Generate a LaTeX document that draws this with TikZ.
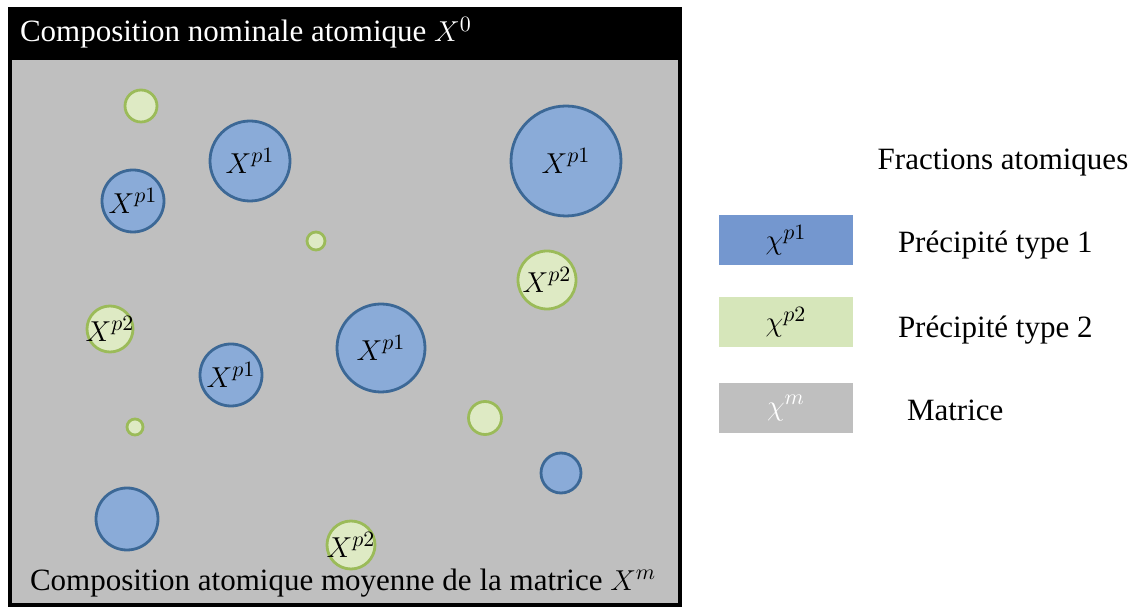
\documentclass[tikz,border=0pt]{standalone}
\usepackage{fontspec}
\setmainfont{Liberation Serif}

\definecolor{cbfbfbf}{RGB}{191,191,191}
\definecolor{c41719c}{RGB}{60,104,150}
\definecolor{c8aabd8}{RGB}{138,171,216}
\definecolor{c7497cf}{RGB}{116,151,207}
\definecolor{c9bbb59}{RGB}{155,187,89}
\definecolor{cdfebc6}{RGB}{222,234,196}
\definecolor{cd6e6ba}{RGB}{214,230,186}

\tikzset{
  prec1/.style={circle, draw=c41719c, fill=c8aabd8, line width=1.4pt, inner sep=0pt},
  prec2/.style={circle, draw=c9bbb59, fill=cdfebc6, line width=1.4pt, inner sep=0pt},
  tag/.style={inner sep=0pt, font=\fontsize{15.5}{18}\selectfont},
  legbox/.style={minimum width=67pt, minimum height=25pt, inner sep=0pt, font=\fontsize{15.5}{18}\selectfont},
  legtext/.style={inner sep=0pt, anchor=west, font=\fontsize{15.5}{18}\selectfont}
}

\begin{document}
\begin{tikzpicture}[y=0.50pt, x=0.50pt, yscale=-1.000000, xscale=1.000000, inner sep=0pt, outer sep=0pt]
\useasboundingbox (0,0) rectangle (1140,608);
\begin{scope}% layer1
  \begin{scope}% frame
    % header
    \path[fill=black] (8,7) rectangle (682,58);
    % matrix
    \path[draw=black,fill=cbfbfbf,line width=2pt] (10,58) rectangle (680,605);
    \node[tag,anchor=west,text=white] (top) at (20,33) {Composition nominale atomique $X^0$};
    \node[tag,anchor=west] (bottom) at (30,583) {Composition atomique moyenne de la matrice $X^m$};
  \end{scope}
  \begin{scope}% precipitates type 1
    \node[prec1,minimum size=40pt] (a1) at (250,161) {};
    \node[tag] (ta1) at (a1) {$X^{p1}$};
    \node[prec1,minimum size=31pt] (a2) at (133,201) {};
    \node[tag] (ta2) at (a2) {$X^{p1}$};
    \node[prec1,minimum size=55pt] (a3) at (566,161) {};
    \node[tag] (ta3) at (a3) {$X^{p1}$};
    \node[prec1,minimum size=44pt] (a4) at (381,348) {};
    \node[tag] (ta4) at (a4) {$X^{p1}$};
    \node[prec1,minimum size=31pt] (a5) at (231,375) {};
    \node[tag] (ta5) at (a5) {$X^{p1}$};
    \node[prec1,minimum size=20pt] (a6) at (561,473) {};
    \node[prec1,minimum size=31pt] (a7) at (127,519) {};
  \end{scope}
  \begin{scope}% precipitates type 2
    \node[prec2,minimum size=16pt] (b1) at (141,106) {};
    \node[prec2,minimum size=9pt] (b2) at (316,241) {};
    \node[prec2,minimum size=29pt] (b3) at (547,280) {};
    \node[tag] (tb3) at (b3) {$X^{p2}$};
    \node[prec2,minimum size=23pt] (b4) at (110,329) {};
    \node[tag] (tb4) at (b4) {$X^{p2}$};
    \node[prec2,minimum size=16.5pt] (b5) at (485,418) {};
    \node[prec2,minimum size=8pt] (b6) at (135,427) {};
    \node[prec2,minimum size=24pt] (b7) at (351,545) {};
    \node[tag] (tb7) at (b7) {$X^{p2}$};
  \end{scope}
  \begin{scope}% legend
    \node[tag] (title) at (1003,163) {Fractions atomiques};
    \node[legbox,fill=c7497cf] (k1) at (786,240) {$\chi^{p1}$};
    \node[legtext] (l1) at (898,245) {Précipité type 1};
    \node[legbox,fill=cd6e6ba] (k2) at (786,322) {$\chi^{p2}$};
    \node[legtext] (l2) at (898,330) {Précipité type 2};
    \node[legbox,fill=cbfbfbf,text=white] (k3) at (786,408) {$\chi^{m}$};
    \node[legtext] (l3) at (907,410) {Matrice};
  \end{scope}
\end{scope}
\end{tikzpicture}
\end{document}
